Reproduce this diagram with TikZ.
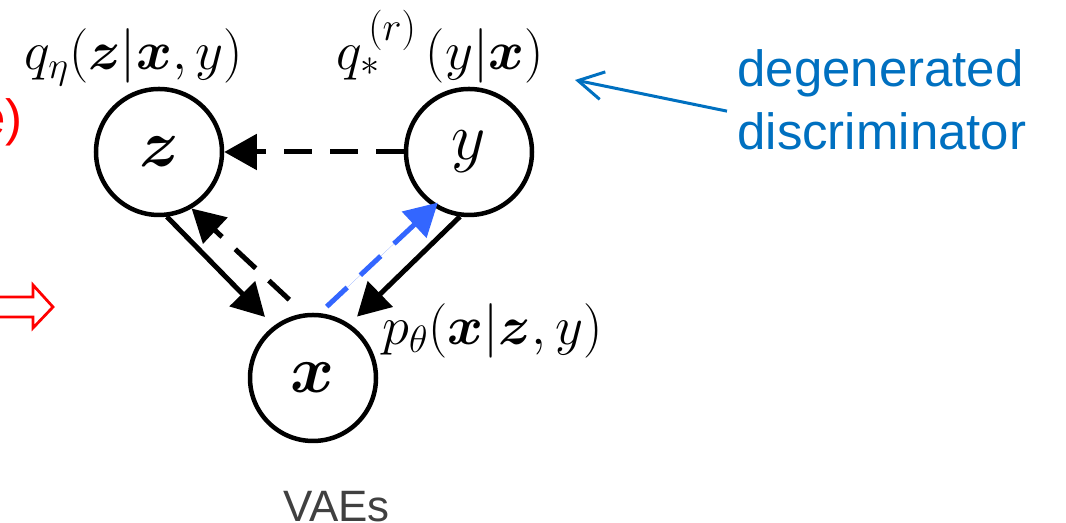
\RequirePackage{fix-cm}
\documentclass[tikz,border=0pt]{standalone}
\usepackage{amsmath,bm}
\usepackage{fontspec}
\newfontfamily\arialfont{Liberation Sans}
\usetikzlibrary{arrows.meta}
\definecolor{noteblue}{RGB}{0,112,192}
\definecolor{edgeblue}{RGB}{51,102,255}
\definecolor{capgray}{RGB}{64,64,64}
\begin{document}
\begin{tikzpicture}[line join=miter,
  var/.style={circle,draw,line width=0.09cm,minimum size=2.52cm,inner sep=0pt,
    font=\fontsize{38}{42}\selectfont},
  lbl/.style={inner sep=0pt,font=\fontsize{31}{36}\selectfont},
  sans/.style={inner sep=0pt,font=\arialfont\fontsize{29}{36}\selectfont},
  edge/.style={line width=0.1cm,-{Triangle[length=0.65cm,width=0.70cm]}},
  dashedge/.style={edge,dash pattern=on 0.56cm off 0.36cm}]
  \useasboundingbox (0,0) rectangle (21.32,10.46);
  \node[var] (z) at (3.18,7.42) {$\bm{z}$};
  \node[var] (y) at (9.38,7.42) {$y$};
  \node[var] (x) at (6.26,2.90) {$\bm{x}$};
  \node[lbl,anchor=base] (qz) at (2.68,9.06) {$q_\eta(\bm{z}|\bm{x},y)$};
  \node[lbl,anchor=base] (qy) at (8.80,9.07)
    {$q_*^{\,\text{\fontsize{23}{26}\selectfont$(r)$}}\,(y|\bm{x})$};
  \node[lbl,anchor=base] (px) at (9.85,3.57) {$p_\theta(\bm{x}|\bm{z},y)$};
  \draw[dashedge] (y) -- (z);
  \draw[edge] (z.-83) -- (x.127) [shorten >=0.25cm];
  \draw[dashedge] (x.98) -- (z.-60) [shorten <=0.40cm];
  \draw[edge] (y.-98) -- (x.56) [shorten >=0.21cm];
  \draw[dashedge,draw=edgeblue,fill=edgeblue] (x.84) -- (y.-123) [shorten <=0.19cm,shorten >=-0.12cm];
  \node[sans,text=capgray,anchor=base,font=\arialfont\fontsize{25}{30}\selectfont] (vae) at (6.73,0.02) {VAEs};
  \node[sans,text=noteblue,align=left,anchor=base west] (disc) at (14.74,7.46) {degenerated\\discriminator};
  \coordinate (dtip) at (11.50,8.86);
  \draw[noteblue,line width=0.06cm,-{Straight Barb[length=0.5cm,width=0.56cm]}]
    ([shift={(-0.2,-0.22)}]disc.west) -- (dtip);
  \node[sans,text=red,anchor=base east] (prev) at (0.46,7.74) {e)};
  \draw[red,line width=0.055cm] (-0.4,4.52) -- (0.66,4.52) -- (0.66,4.76) -- (1.06,4.32)
    -- (0.66,3.90) -- (0.66,4.12) -- (-0.4,4.12);
\end{tikzpicture}
\end{document}
